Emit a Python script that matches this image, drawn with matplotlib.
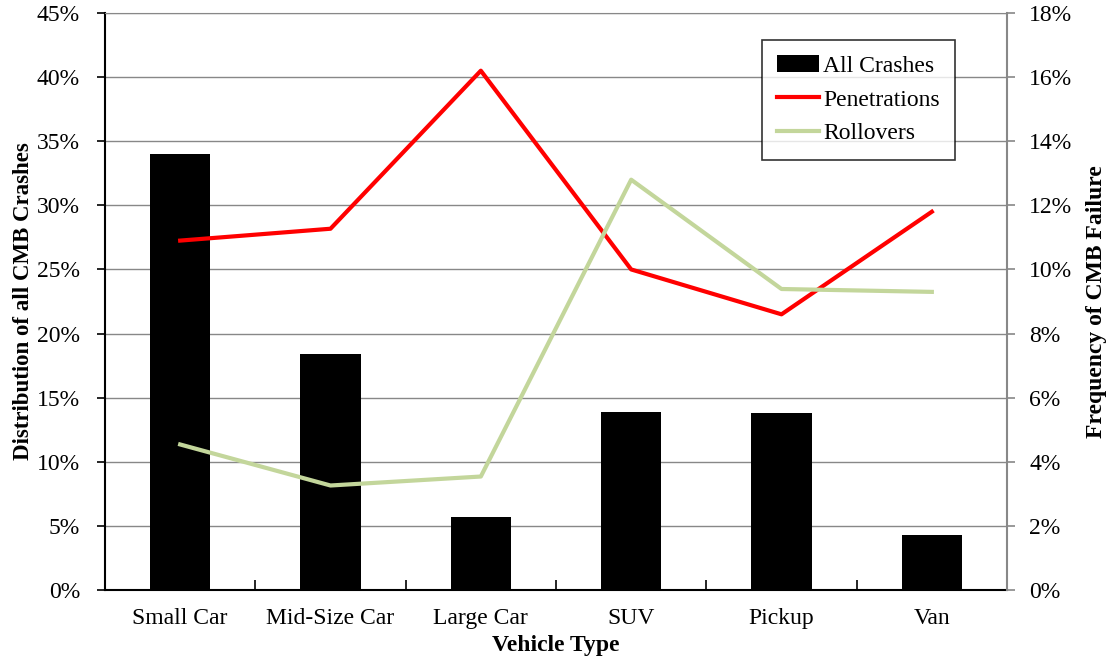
import matplotlib
matplotlib.use("Agg")
import matplotlib.pyplot as plt
from matplotlib.ticker import FuncFormatter, MultipleLocator
import numpy as np

categories = ["Small Car", "Mid-Size Car", "Large Car", "SUV", "Pickup", "Van"]
all_crashes = [34.0, 18.4, 5.7, 13.9, 13.8, 4.3]
penetrations = [10.9, 11.27, 16.2, 10.0, 8.6, 11.8]
rollovers = [4.54, 3.26, 3.54, 12.8, 9.39, 9.3]

plt.rcParams['font.family'] = ['Liberation Serif', 'DejaVu Serif']

fig = plt.figure(figsize=(11.09, 6.57), dpi=100)
ax = fig.add_axes([105/1109, 1-590/657, (1007-105)/1109, (590-13)/657])
x = np.arange(len(categories))

ax.bar(x, all_crashes, width=0.4, color='black', label='All Crashes', zorder=2)
ax.set_xlim(-0.5, len(categories)-0.5)
ax.set_ylim(0, 45)
ax.yaxis.set_major_locator(MultipleLocator(5))
ax.yaxis.set_major_formatter(FuncFormatter(lambda v, p: f"{v:.0f}%"))
ax.grid(axis='y', color='#888888', linewidth=1.0, zorder=0)
ax.set_axisbelow(True)
ax.set_xticks(np.arange(-0.5, len(categories), 1.0), minor=False)
ax.set_xticklabels([])
ax.set_xticks(x, minor=True)
ax.set_xticklabels(categories, minor=True, fontsize=17)
ax.tick_params(axis='x', which='minor', length=0, pad=13)
ax.tick_params(axis='x', which='major', length=7, direction='in', width=1.2)
ax.tick_params(axis='y', labelsize=17, length=6, direction='out', width=1.2, pad=12)
ax.set_ylabel('Distribution of all CMB Crashes', fontsize=16.5, fontweight='bold', labelpad=2)
ax.set_xlabel('Vehicle Type', fontsize=17, fontweight='bold', labelpad=4)
for s in ['left', 'bottom']:
    ax.spines[s].set_linewidth(1.5)
    ax.spines[s].set_color('black')
ax.spines['top'].set_color('#888888')
ax.spines['right'].set_visible(False)

ax2 = ax.twinx()
l1, = ax2.plot(x, penetrations, color='#ff0000', linewidth=3, label='Penetrations', zorder=3)
l2, = ax2.plot(x, rollovers, color='#c3d69b', linewidth=3, label='Rollovers', zorder=3)
ax2.set_ylim(0, 18)
ax2.yaxis.set_major_locator(MultipleLocator(2))
ax2.yaxis.set_major_formatter(FuncFormatter(lambda v, p: f"{v:.0f}%"))
ax2.tick_params(axis='y', labelsize=17, length=6, direction='out', width=1.2, color='#888888', pad=10)
ax2.spines['right'].set_color('#888888')
ax2.spines['right'].set_linewidth(1.5)
ax2.spines['top'].set_visible(False)
ax2.spines['left'].set_visible(False)
ax2.spines['bottom'].set_visible(False)
ax2.set_ylabel('Frequency of CMB Failure', fontsize=17, fontweight='bold', labelpad=10)

handles = [ax.patches[0], l1, l2]
leg = ax2.legend(handles, ['All Crashes', 'Penetrations', 'Rollovers'],
                 loc='upper left', bbox_to_anchor=((762-105)/902, 1-(40-13)/577),
                 fontsize=17, frameon=True, fancybox=False, edgecolor='black',
                 handlelength=1.75, handletextpad=0.2, borderpad=0.65, labelspacing=0.52,
                 borderaxespad=0)
leg.get_frame().set_linewidth(1.2)

fig.savefig('out.png', dpi=100)
